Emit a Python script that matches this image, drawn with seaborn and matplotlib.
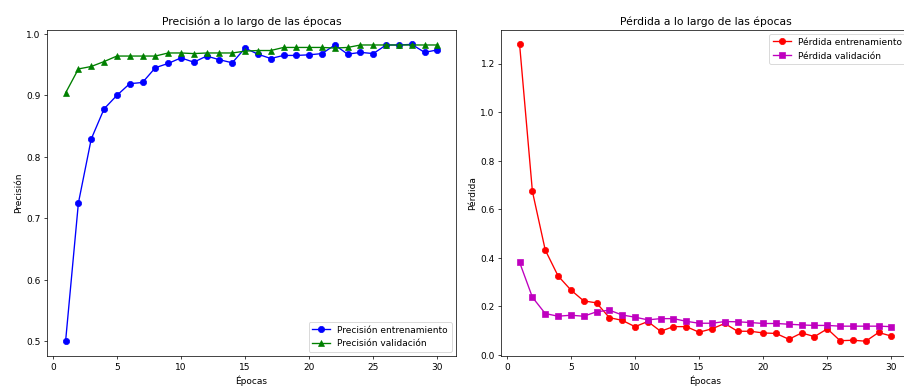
import pandas as pd
import matplotlib
matplotlib.use("Agg")
import matplotlib.pyplot as plt
import seaborn as sns

# ---------------------------------------------------------------------------
# Training history
# ---------------------------------------------------------------------------
epocas = list(range(1, 31))

acc_train = [0.500, 0.725, 0.829, 0.878, 0.900, 0.919, 0.921, 0.945, 0.952, 0.961,
             0.954, 0.964, 0.958, 0.953, 0.977, 0.967, 0.960, 0.965, 0.965, 0.966,
             0.968, 0.982, 0.967, 0.970, 0.968, 0.982, 0.982, 0.983, 0.970, 0.974]
acc_val = [0.904, 0.943, 0.947, 0.955, 0.964, 0.964, 0.964, 0.964, 0.969, 0.969,
           0.968, 0.969, 0.969, 0.969, 0.972, 0.973, 0.973, 0.978, 0.978, 0.978,
           0.978, 0.977, 0.978, 0.982, 0.982, 0.982, 0.982, 0.982, 0.982, 0.982]

loss_train = [1.279, 0.673, 0.432, 0.325, 0.267, 0.222, 0.214, 0.153, 0.142, 0.116,
              0.137, 0.097, 0.116, 0.116, 0.093, 0.107, 0.129, 0.097, 0.097, 0.090,
              0.088, 0.064, 0.090, 0.075, 0.107, 0.058, 0.060, 0.056, 0.092, 0.077]
loss_val = [0.381, 0.237, 0.170, 0.159, 0.163, 0.159, 0.177, 0.184, 0.164, 0.155,
            0.144, 0.149, 0.149, 0.138, 0.130, 0.130, 0.137, 0.136, 0.133, 0.129,
            0.129, 0.126, 0.123, 0.121, 0.121, 0.118, 0.118, 0.118, 0.118, 0.116]

hist = pd.DataFrame({
    "epoca": epocas,
    "acc_train": acc_train,
    "acc_val": acc_val,
    "loss_train": loss_train,
    "loss_val": loss_val,
})

# ---------------------------------------------------------------------------
# Figure: two panels, plain matplotlib look
# ---------------------------------------------------------------------------
fig = plt.figure(figsize=(14, 6), dpi=904 / 14)
W, H = 904, 388
ax1 = fig.add_axes([47 / W, 1 - 357 / H, 409 / W, 327 / H])
ax2 = fig.add_axes([501 / W, 1 - 357 / H, 409 / W, 327 / H])

sns.lineplot(data=hist, x="epoca", y="acc_train", ax=ax1, color="b", marker="o",
             markersize=7, markeredgecolor="b", linewidth=1.5,
             label="Precisión entrenamiento")
sns.lineplot(data=hist, x="epoca", y="acc_val", ax=ax1, color="g", marker="^",
             markersize=6, markeredgecolor="g", linewidth=1.5,
             label="Precisión validación")
ax1.set_title("Precisión a lo largo de las épocas")
ax1.set_xlabel("Épocas")
ax1.set_ylabel("Precisión")
ax1.legend(loc="lower right")

sns.lineplot(data=hist, x="epoca", y="loss_train", ax=ax2, color="r", marker="o",
             markersize=7, markeredgecolor="r", linewidth=1.5,
             label="Pérdida entrenamiento")
sns.lineplot(data=hist, x="epoca", y="loss_val", ax=ax2, color="m", marker="s",
             markersize=6, markeredgecolor="m", linewidth=1.5,
             label="Pérdida validación")
ax2.set_title("Pérdida a lo largo de las épocas")
ax2.set_xlabel("Épocas")
ax2.set_ylabel("Pérdida")
ax2.legend(loc="upper right")

plt.savefig("out.png", dpi=904 / 14)
